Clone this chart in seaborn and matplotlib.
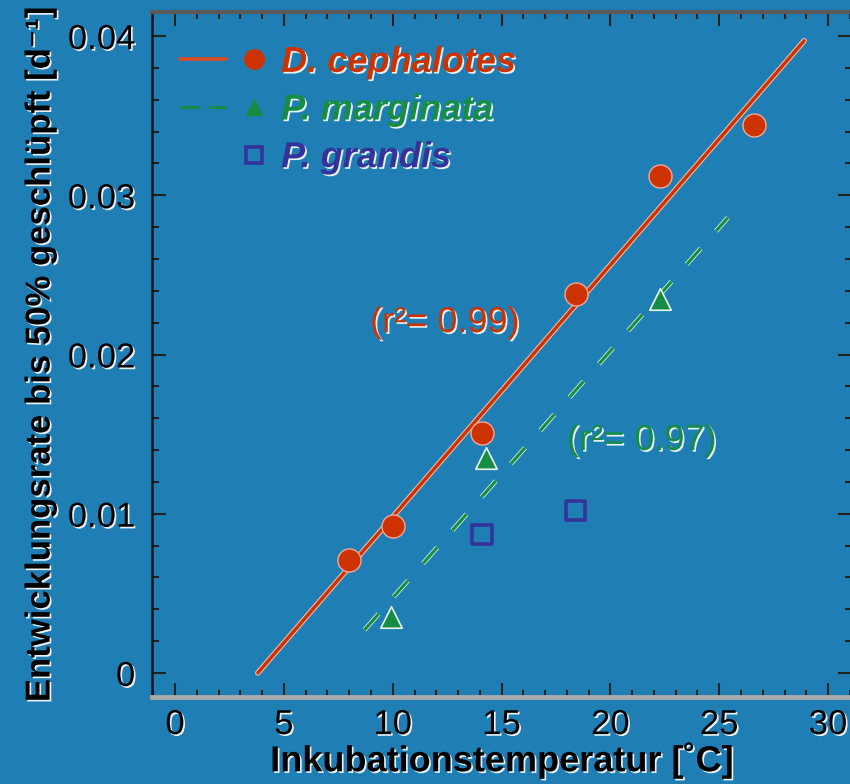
import matplotlib
matplotlib.use("Agg")
import matplotlib.pyplot as plt
import matplotlib.patheffects as pe
from matplotlib.lines import Line2D
from matplotlib.legend_handler import HandlerTuple
from matplotlib.ticker import MultipleLocator, FixedLocator, FixedFormatter
import pandas as pd
import seaborn as sns

# ---------------- data ----------------
species = ["D. cephalotes", "P. marginata", "P. grandis"]
dc_temp = [8.0, 10.0, 14.1, 18.4, 22.3, 26.6]
dc_rate = [0.0071, 0.0092, 0.0151, 0.0238, 0.0312, 0.0344]
pm_temp = [9.9, 14.3, 22.3]
pm_rate = [0.0035, 0.0135, 0.0235]
pg_temp = [14.1, 18.4]
pg_rate = [0.0087, 0.0102]
# regression lines (end points)
dc_fit_temp = [3.8, 28.9]
dc_fit_rate = [0.0, 0.0397]
pm_fit_temp = [8.7, 25.4]
pm_fit_rate = [0.0027, 0.0286]
r2_texts = ["(r\u00b2= 0.99)", "(r\u00b2= 0.97)"]
r2_pos_x = [12.4, 21.45]
r2_pos_y = [0.0220, 0.0146]
x_ticks = [0, 5, 10, 15, 20, 25, 30]
x_ticklabels = ["0", "5", "10", "15", "20", "25", "30"]
y_ticks = [0, 0.01, 0.02, 0.03, 0.04]
y_ticklabels = ["0", "0.01", "0.02", "0.03", "0.04"]
x_label = "Inkubationstemperatur [\u02daC]"
y_label = "Entwicklungsrate bis 50% geschl\u00fcpft [d\u207b\u00b9]"

# ---------------- style ----------------
BG = "#1f7fb5"
RED = "#cc3300"
GREEN = "#168c45"
BLUE = "#333399"

sns.set_style("white")
plt.rcParams["font.family"] = ["Liberation Sans", "DejaVu Sans"]
halo = [pe.SimplePatchShadow(offset=(1.2, -1.2), shadow_rgbFace="white", alpha=0.9), pe.Normal()]

fig = plt.figure(figsize=(8.5, 7.84), dpi=100)
fig.patch.set_facecolor(BG)
ax = fig.add_axes([152 / 850, 1 - 697 / 784, (852 - 152) / 850, (697 - 12) / 784])
ax.set_facecolor(BG)

df_dc = pd.DataFrame({"temp": dc_temp, "rate": dc_rate})
df_pm = pd.DataFrame({"temp": pm_temp, "rate": pm_rate})
df_pg = pd.DataFrame({"temp": pg_temp, "rate": pg_rate})
df_dcfit = pd.DataFrame({"temp": dc_fit_temp, "rate": dc_fit_rate})
df_pmfit = pd.DataFrame({"temp": pm_fit_temp, "rate": pm_fit_rate})

sns.lineplot(data=df_dcfit, x="temp", y="rate", ax=ax, color=RED, linewidth=2.4,
             path_effects=[pe.withStroke(linewidth=4.0, foreground="#f0b8a8")])
sns.lineplot(data=df_pmfit, x="temp", y="rate", ax=ax, color=GREEN, linewidth=2.2,
             linestyle=(0, (7, 7.5)),
             path_effects=[pe.withStroke(linewidth=3.4, foreground="#cfeedd")])

sns.scatterplot(data=df_dc, x="temp", y="rate", ax=ax, marker="o", s=275,
                color=RED, edgecolor="#f2a898", linewidth=1.0, zorder=5)
sns.scatterplot(data=df_pm, x="temp", y="rate", ax=ax, marker="^", s=240,
                color=GREEN, edgecolor="#e8f6ee", linewidth=1.2, zorder=5)
sns.scatterplot(data=df_pg, x="temp", y="rate", ax=ax, marker="s", s=190,
                facecolor="none", edgecolor=BLUE, linewidth=2.6, zorder=5)

for txt, xx, yy, col in zip(r2_texts, r2_pos_x, r2_pos_y, [RED, GREEN]):
    ax.text(xx, yy, txt, color=col, ha="center", va="center", fontsize=26,
            path_effects=halo, zorder=6)

# axes limits and ticks
ax.set_xlim(-1.06, 31.1)
ax.set_ylim(-0.00151, 0.04151)
ax.xaxis.set_major_locator(FixedLocator(x_ticks))
ax.xaxis.set_major_formatter(FixedFormatter(x_ticklabels))
ax.yaxis.set_major_locator(FixedLocator(y_ticks))
ax.yaxis.set_major_formatter(FixedFormatter(y_ticklabels))
ax.xaxis.set_minor_locator(MultipleLocator(1))
ax.yaxis.set_minor_locator(MultipleLocator(0.002))
ax.tick_params(which="both", direction="in", top=True, right=True, bottom=True, left=True,
               color="#222222", width=1.5)
ax.tick_params(which="major", length=10)
ax.tick_params(which="minor", length=5)
ax.tick_params(axis="x", which="major", labelsize=25, pad=8, labelcolor="black")
ax.tick_params(axis="y", which="major", labelsize=25, pad=12, labelcolor="black")
for lab in ax.get_xticklabels() + ax.get_yticklabels():
    lab.set_path_effects(halo)

for side in ["left", "right"]:
    ax.spines[side].set_color("#111111")
    ax.spines[side].set_linewidth(1.8)
ax.spines["top"].set_color("#5a5a5a")
ax.spines["top"].set_linewidth(3.0)
ax.spines["bottom"].set_color("#a8a8a8")
ax.spines["bottom"].set_linewidth(3.5)

ax.set_xlabel(x_label, fontweight="bold", fontsize=26, labelpad=0, color="black",
              path_effects=halo)
ax.set_ylabel(y_label, fontweight="bold", fontsize=25, labelpad=8, color="black",
              path_effects=halo)

# legend
h_dc = (Line2D([], [], color="#dd4a22", lw=2.6),
        Line2D([], [], marker="o", ls="none", color=RED, ms=14))
h_pm = (Line2D([], [], color=GREEN, lw=2.2, ls=(0, (6.5, 2.7))),
        Line2D([], [], marker="^", ls="none", color=GREEN, ms=11))
h_pg = (Line2D([], [], ls="none"),
        Line2D([], [], marker="s", ls="none", mfc="none", mec=BLUE, mew=2.6, ms=11))
leg = ax.legend([h_dc, h_pm, h_pg], species,
                handler_map={tuple: HandlerTuple(ndivide=None, pad=0.15)},
                loc="upper left", bbox_to_anchor=(0.04, 0.952), borderaxespad=0,
                borderpad=0, frameon=False, handlelength=2.7, handletextpad=0.1,
                labelspacing=0.35,
                prop=dict(size=26, style="italic", weight="bold"))
for t, col in zip(leg.get_texts(), [RED, GREEN, BLUE]):
    t.set_color(col)
    t.set_path_effects(halo)

fig.savefig("out.png", dpi=100, facecolor=BG)
